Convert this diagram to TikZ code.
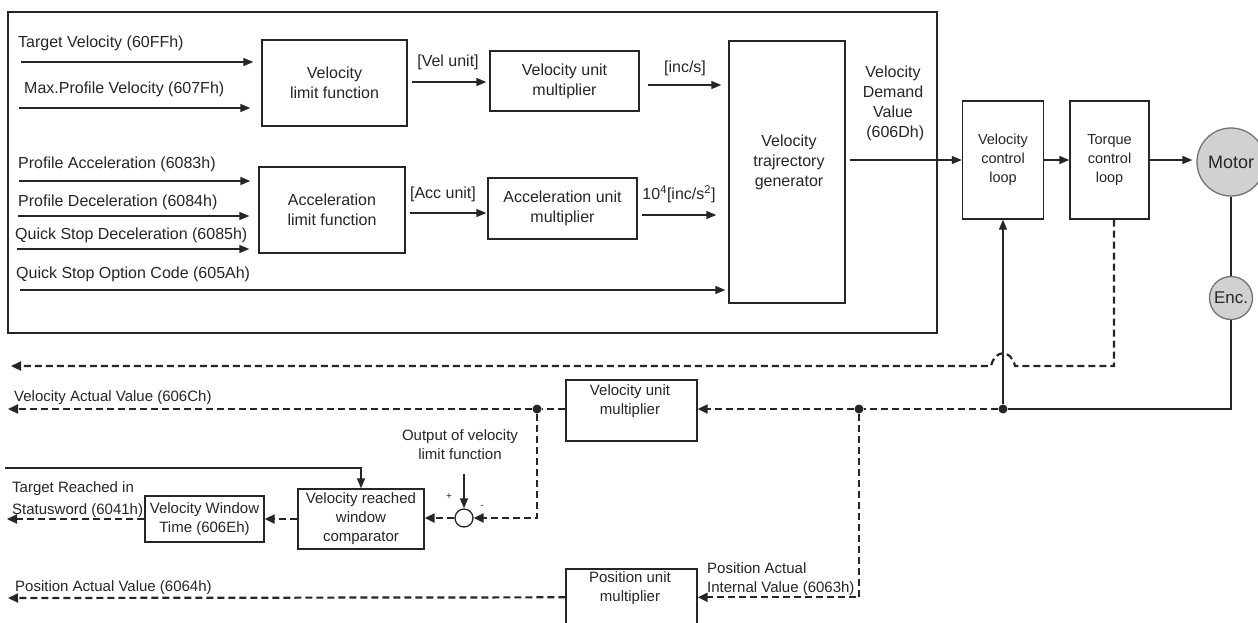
\documentclass[tikz,border=0pt]{standalone}
\usepackage{fontspec}
\setmainfont{Liberation Sans}
\usetikzlibrary{arrows.meta,calc}
\begin{document}
\begin{tikzpicture}[x=1pt,y=-1pt,
  box/.style={draw=black!85, line width=1.4pt, inner sep=0pt, align=center, text=black!85},
  big/.style={font=\fontsize{16}{20}\selectfont},
  mid/.style={font=\fontsize{15}{19}\selectfont},
  sm/.style={font=\fontsize{14.5}{19}\selectfont},
  lbl/.style={inner sep=0pt, text=black!85, align=center},
  arr/.style={draw=black!85, line width=1.4pt, -{Triangle[length=10pt,width=8pt]}},
  ln/.style={draw=black!85, line width=1.4pt},
  dsh/.style={draw=black!85, line width=2.2pt, dash pattern=on 7pt off 4pt},
  darr/.style={dsh, -{Triangle[length=10pt,width=9pt]}},
  dot/.style={circle, fill=black!85, inner sep=0pt, minimum size=9pt},
  ball/.style={circle, draw=black!55, fill=black!18, line width=1.3pt, inner sep=0pt, text=black!85},
]
\useasboundingbox (0,0) rectangle (1258,622);
\fill[white] (0,0) rectangle (1258,622);

% outer frame
\draw[ln] (8,12) rectangle (937,333);

% input labels
\node[lbl,big,anchor=west] (tTV) at (18,43) {Target Velocity (60FFh)};
\node[lbl,big,anchor=west] (tMV) at (24,89) {Max.Profile Velocity (607Fh)};
\node[lbl,big,anchor=west] (tPA) at (18,164) {Profile Acceleration (6083h)};
\node[lbl,big,anchor=west] (tPD) at (18,202) {Profile Deceleration (6084h)};
\node[lbl,big,anchor=west] (tQD) at (15,235) {Quick Stop Deceleration (6085h)};
\node[lbl,big,anchor=west] (tQO) at (16,274) {Quick Stop Option Code (605Ah)};

% boxes
\node[box,big,minimum width=145pt,minimum height=86pt] (vlf) at (334.5,83) {Velocity\\limit function};
\node[box,big,minimum width=146pt,minimum height=86pt] (alf) at (332,210) {Acceleration\\limit function};
\node[box,big,minimum width=149pt,minimum height=60pt] (vum) at (564.5,81) {Velocity unit\\multiplier};
\node[box,big,minimum width=149pt,minimum height=61pt] (aum) at (562.5,208.5) {Acceleration unit\\multiplier};
\node[box,minimum width=116pt,minimum height=262pt] (vtg) at (787,172) {};
\node[lbl,big] (vtgt) at (789,162) {Velocity\\trajrectory\\generator};
\node[box,sm,minimum width=81pt,minimum height=118pt] (vcl) at (1003,160) {Velocity\\control\\loop};
\node[box,sm,minimum width=79pt,minimum height=118pt] (tcl) at (1109.5,160) {Torque\\control\\loop};
\node[ball,minimum size=68pt,font=\fontsize{18}{20}\selectfont] (motor) at (1231,162) {Motor};
\node[ball,minimum size=43pt,font=\fontsize{17}{20}\selectfont] (enc) at (1231,298) {Enc.};

% mid labels
\node[lbl,big] (lVel) at (448,62) {[Vel unit]};
\node[lbl,big] (lInc) at (685,68) {[inc/s]};
\node[lbl,big] (lAcc) at (443,194) {[Acc unit]};
\node[lbl,big] (lInc2) at (679,194) {10\textsuperscript{4}[inc/s\textsuperscript{2}]};
\node[lbl,big] (lVDV) at (893,103) {Velocity\\Demand\\Value\\\ (606Dh)};

% input arrows
\coordinate (i1) at (21,62);
\coordinate (i2) at (19,108);
\coordinate (i3) at (19,181);
\coordinate (i4) at (18,216);
\coordinate (i5) at (17,249);
\coordinate (i6) at (20,290);
\draw[arr,shorten >=8pt] (i1) -- (i1 -| vlf.west);
\draw[arr,shorten >=11pt] (i2) -- (i2 -| vlf.west);
\draw[arr,shorten >=8pt] (i3) -- (i3 -| alf.west);
\draw[arr,shorten >=9pt] (i4) -- (i4 -| alf.west);
\draw[arr,shorten >=9pt] (i5) -- (i5 -| alf.west);
\draw[arr,shorten >=3pt] (i6) -- (i6 -| vtg.west);

% inner chain
\coordinate (a1) at ($(vlf.east)+(4,-1)$);
\draw[arr,shorten >=3pt] (a1) -- (a1 -| vum.west);
\coordinate (a2) at ($(vum.east)+(8,4)$);
\draw[arr,shorten >=7pt] (a2) -- (a2 -| vtg.west);
\coordinate (a3) at ($(alf.east)+(4,3)$);
\draw[arr,shorten >=1pt] (a3) -- (a3 -| aum.west);
\coordinate (a4) at ($(aum.east)+(4,6.5)$);
\draw[arr,shorten >=12pt] (a4) -- (a4 -| vtg.west);
\draw[arr,shorten <=4pt] (vtg.east |- vcl.west) -- (vcl.west);
\draw[arr] (vcl.east) -- (tcl.west);
\draw[arr,shorten >=4pt] (tcl.east) -- (tcl.east -| motor.west);
\draw[ln] (motor) -- (enc);

% feedback
\node[dot] (j1) at (1003,409) {};
\node[dot] (j2) at (859,409) {};
\node[dot] (j3) at (537,409) {};
\draw[ln] (enc.south) |- (j1);
\draw[arr] (j1) -- (vcl.south);

\coordinate (o1) at (11,366);
\coordinate (hp) at (j1 |- o1);
\coordinate (tq) at ($(tcl.south)+(4.5,0)$);
\draw[darr] (tq) |- ($(hp)+(12,0)$) .. controls ($(hp)+(8,-17)$) and ($(hp)+(-8,-17)$) .. ($(hp)+(-12,0)$) -- (o1);

\node[box,minimum width=131pt,minimum height=61pt] (vum2) at (631.5,410.5) {};
\node[lbl,mid] (vum2t) at (630,401) {Velocity unit\\multiplier};
\draw[dsh] (j1) -- (j2);
\draw[darr] (j2) -- (j2 -| vum2.east);
\draw[dsh] (vum2.west |- j3) -- (j3);
\coordinate (o2) at (8,409);
\draw[darr] (j3) -- (o2);
\node[lbl,mid,anchor=west] (tVA) at (14,398) {Velocity Actual Value (606Ch)};

% velocity window
\node[circle,draw=black!85,line width=1.3pt,minimum size=18pt,inner sep=0pt] (sum) at (464,518) {};
\node[lbl,mid] (tOut) at (460,445) {Output of velocity\\limit function};
\coordinate (o3) at (464,474);
\draw[arr] (o3) -- (sum.north);
\node[lbl,font=\fontsize{10}{12}\selectfont] (plus) at (449,497) {+};
\node[lbl,font=\fontsize{10}{12}\selectfont] (minus) at (482,507) {-};
\draw[darr] (j3) |- (sum.east);
\node[box,mid,minimum width=126pt,minimum height=60pt] (vrwc) at (361,519) {Velocity reached\\window\\comparator};
\draw[darr] (sum.west) -- (sum.west -| vrwc.east);
\coordinate (o4) at (5,468);
\draw[arr] (o4) -| (vrwc.north);
\node[box,mid,minimum width=119pt,minimum height=46pt] (vwt) at (204.5,519) {Velocity Window\\Time (606Eh)};
\draw[darr] (vrwc.west) -- (vrwc.west -| vwt.east);
\coordinate (o5) at (7,519);
\draw[darr] (vwt.west) -- (o5);
\node[lbl,mid,anchor=west] (tTR1) at (12,489) {Target Reached in};
\node[lbl,mid,anchor=west] (tTR2) at (12,511) {Statusword (6041h)};

% position
\node[box,minimum width=131pt,minimum height=75pt] (pum) at (631.5,606.5) {};
\node[lbl,mid] (pumt) at (630,588) {Position unit\\multiplier};
\coordinate (pr) at ($(pum.north east)+(0,29)$);
\coordinate (pl) at ($(pum.north west)+(0,29)$);
\draw[darr] (j2) |- (pr);
\coordinate (o6) at (8,598);
\draw[darr] (pl) -- (o6);
\node[lbl,mid,anchor=west] (tPV) at (15,588) {Position Actual Value (6064h)};
\node[lbl,mid,anchor=west,align=left] (tPI) at (707,579) {Position Actual\\Internal Value (6063h)};
\end{tikzpicture}
\end{document}
